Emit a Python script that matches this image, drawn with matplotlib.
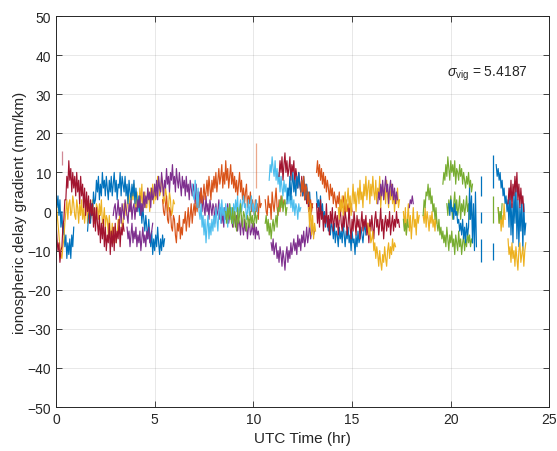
import numpy as np
import matplotlib
matplotlib.use("Agg")
import matplotlib.pyplot as plt

plt.rcParams['font.family'] = ['Liberation Sans', 'DejaVu Sans']
plt.rcParams['mathtext.fontset'] = 'custom'
plt.rcParams['mathtext.rm'] = 'Liberation Sans'
plt.rcParams['mathtext.it'] = 'Liberation Sans:italic'

# MATLAB default colour order
BLUE, ORANGE, YELLOW, PURPLE = '#0072BD', '#D95319', '#EDB120', '#7E2F8E'
GREEN, LBLUE, RED = '#77AC30', '#4DBEEE', '#A2142F'

DT = 0.05  # sample spacing of each arc (hr)

# gradient arcs: start time (hr) and samples (mm/km)
blue_1_t0 = 0.0
blue_1 = [5, 1, 4, -1, 3, -4, 0, -6, -3, -9, -6, -12, -8, -11, -7, -12, -6, -9, -4]
yellow_1_t0 = 0.0
yellow_1 = [3, 0, -3, -6, -9, -11, -12, -9, -7, -3,
            0, 3, -2, 2, 3, -1, 0, 4, 2, -1,
            -2, 3, 1, -3, 2, -1, 3, -2, 1, -3,
            0, 3, -3, 1, 2, -2, -1, 3, 0, -3,
            -3, 2, 1, -2, 2, -1, 3, -3, -2, 1,
            -4, -1, -2, -6, -1, -5, -7, -3, -8, -4,
            -4, -8, -6, -2, -3, 1, 0, -4, -3, 2,
            2, -1, 1, 5, 4, 0, 2, 6, 3, 7,
            3, 0, 5, 2, 1, 6, 2, 7, 0, 4,
            5, 1, 1, 6, 4, 0, 6, 3, 7, 2,
            7, 3, 4, 9, 8, 4, 5, 9, 7, 2,
            3, 6, 4, 0, 1, 5, 3, -1, 0, 3, 2]
blue_2_t0 = 1.6
blue_2 = [-5, -1, 0, -3, 2, -1, 5, 2,
          3, 8, 5, 9, 3, 7, 4, 10, 6, 8,
          4, 9, 6, 3, 8, 5, 9, 4, 7, 10,
          5, 8, 3, 7, 6, 10, 4, 9, 7, 5,
          9, 4, 7, 2, 8, 5, 3, 7, 4, 8,
          2, 6, 3, 0, 4, -1, 2, -3, 1, -2,
          -5, -1, -4, -7, -2, -6, -9, -5, -11, -7,
          -10, -6, -9, -4, -8, -11, -7, -10, -6, -9, -7]
purple_0_t0 = 3.6
purple_0 = [-4, -7, -5, -9, -6, -3, -8, -5, -7, -4, -9, -6, -8, -5,
            -10, -7, -4, -8, -6, -9, -5, -7, -4, -8, -6, -5, -3]
purple_1_t0 = 2.9
purple_1 = [-1, 1,
            2, -2, 0, 3, -1, 1, -3, 2, 0, -2,
            3, 1, -1, -3, 2, 0, 3, -2, 1, 2,
            -2, 1, 0, 3, 1, 4, -1, 2, 0, 5,
            1, 4, 2, 6, 3, 5, 1, 6, 3, 4,
            7, 4, 8, 3, 9, 6, 5, 10, 7, 4,
            8, 6, 11, 7, 9, 5, 10, 8, 12, 7,
            9, 5, 11, 8, 6, 10, 7, 4, 9, 6,
            8, 4, 9, 5, 7, 3, 8, 6, 4, 7,
            5, 2, 7, 3, 1, 5, 2, 6, 0, 4,
            1, -1, 4, 0, 2, -2, 3, 1, -1, 2,
            1, -3, 2, -1, 0, 3, -2, 1, -3, 0,
            -4, 1, -2, -1, 2, -3, -1, 1, -2, -4,
            -3, 0, -4, -1, -5, -2, -3, -6, -1, -4,
            -6, -2, -5, -3, -7, -4, -2, -6, -5, -3,
            -6, -3, -7, -4, -6, -5, -7]
red_1_t0 = 0.0
red_1 = [-2, -7, -10, -8, -13, -10, -9, -4, -2, 3,
         3, 9, 6, 13, 8, 11, 5, 10, 6, 9,
         4, 10, 5, 8, 2, 9, 4, 7, 1, 6,
         -1, 5, 0, 4, -3, 3, -1, 2, -4, 1,
         -5, 1, -3, -6, -1, -8, -3, -7, -2, -9,
         -4, -10, -6, -8, -3, -11, -5, -9, -4, -10,
         -3, -8, -5, -7, -2, -9, -4, -6, -3, -5]
orange_1_t0 = 5.4
orange_1 = [3, 0, -1, 2, 4, -2, -3, 1, 0, -4, -5, -1,
            -2, -6, -8, -3, -5, -1, -7, -4, -6, -2,
            -3, 0, -5, -2, 1, -4, -1, 2, -3, 0,
            2, -1, 3, 0, 5, 1, 3, 6, 2, 4,
            7, 3, 5, 8, 4, 9, 6, 3, 8, 5,
            9, 6, 10, 5, 8, 11, 7, 9, 12, 6,
            10, 7, 13, 8, 11, 6, 9, 12, 7, 10,
            6, 9, 5, 8, 4, 7, 10, 5, 8, 3,
            6, 2, 5, 7, 1, 4, 2, 5, 0, 3,
            1, -1, 3, 0, 2, -2, 4, 1, 2]
lblue_1_t0 = 6.9
lblue_1 = [7, 4,
           3, 8, 5, 1, 6, 0, -2, 2, -4, -1,
           -6, -2, -8, -4, -1, -7, -3, -6, -2, -5,
           -1, -4, 1, -2, -5, 0, 2, -3, 3, -1,
           1, -3, 2, -1, -4, 0, 2, -2, 1, -3,
           2, -1, 3, 0, 4, -2, 1, 3, 0, 2,
           4, 1, 2, -2, 0, 3, -1, 2, 4, 0,
           2, -1, 1, 3, 0]
green_1_t0 = 8.6
green_1 = [0, -3, 1, -2, 2, -1, -3, 1, -4, 0, -2, -5, 1, -3, -1, 2, -2,
           -4, 0, -1, -3, -5, -1, -2, -4, 0, -3, -1, -4, -2, 0, -3, -1]
orange_2_t0 = 10.6
orange_2 = [3, 0, -1, 4, 1, 2, -2, 5, 2, 0, 3, 6, 1, -1, 3, 0, 4, 2, 1, 3, 2]
green_2_t0 = 10.6
green_2 = [-3, -1, -5, -2, -6, -3, -7, -4, -2, -5, -3, -1,
           -4, 1, 0, 3, 1, 4, 0, 2, 3, -1, 1]
lblue_2_t0 = 10.8
lblue_2 = [8, 12, 10, 14, 11, 9, 13, 8, 11, 7,
           10, 5, 9, 6, 4, 8, 5, 7, 3, 6,
           2, 5, 1, 4, 0, 3, -1, 2, 1, -2, 2, 0, 1]
purple_2_t0 = 10.9
purple_2 = [-8, -10, -7, -11, -9, -8, -12, -10, -13, -9,
            -11, -14, -10, -12, -15, -11, -9, -13, -10, -12,
            -8, -11, -9, -7, -10, -8, -11, -6, -9, -7,
            -10, -6, -8, -5, -9, -7, -4, -8, -6, -3,
            -7, -5, -4, -6, -5]
red_2_t0 = 11.3
red_2 = [9, 13, 10, 14, 8, 12, 15, 10, 13, 9,
         11, 14, 8, 12, 10, 13, 7, 11, 9, 6,
         10, 7, 5, 9, 4, 7, 3, 6, 2, 5,
         0, 3, -1, 2, 1]
blue_3_t0 = 11.7
blue_3 = [2, 6, 4, 9, 3, 7, 10, 5, 8, 4, 9, 6, 10,
          7, 5, 8, 4, 9, 6, 3, 7, 4, 2, 5, 1]
orange_3_t0 = 12.4
orange_3 = [4, 8, 5, 9, 3, 7, 6, 2, 5, 1, 3, 0, 2]
yellow_2_t0 = 12.8
yellow_2 = [1, -4, 2, -6, -1, -7, -3, -5]
orange_4_t0 = 13.2
orange_4 = [10, 13, 9, 12, 8, 11, 7, 10, 6, 9,
            5, 8, 6, 3, 7, 4, 6, 2, 5, 3,
            1, 4, 2, 5, 0, 3, 1, 4, 2, -1,
            3, 0, 2, -1, 1, 2, 0]
blue_4_t0 = 13.2
blue_4 = [5, 1, 3, 0, 4, -1, 2, -2, 0, -4,
          -1, -3, -5, -2, -6, -3, -4, -7, -3, -8,
          -5, -6, -9, -4, -7, -5, -8, -3, -6, -9,
          -5, -7, -4, -8, -6, -10, -5, -8, -7, -11,
          -6, -9, -5, -8, -7, -4, -6, -8, -5, -3, -6]
red_3_t0 = 13.2
red_3 = [2, -3, 1, -4, 3, -2, 0, -5, -1, -3,
         2, -4, -1, -6, 0, -3, 1, -5, -2, 0,
         -4, -1, -6, -2, 1, -3, -5, -1, -4, 0,
         -2, -6, -3, 1, -4, -7, -2, -5, 0, -3,
         -6, -1, -4, -2, -7, -3, 0, -5, -2, -4,
         -1, -6, -3, -8, -2, -5, -1, -4, -7, -2,
         0, -4, -2, -6, -3, 1, -5, -2, -7, -3,
         -1, -5, -2, -4, 0, -6, -3, -1, -5, -2,
         -4, 0, -3, -2, -4]
yellow_3_t0 = 14.3
yellow_3 = [1, -2, 3, 0, 4, -1, 2, 5, 0, 3,
            6, 1, 4, -1, 3, 7, 2, 5, 0, 4,
            6, 2, 8, 3, 5, 1, 7, 4, 9, 3,
            6, 8, 2, 7, 4, 9, 5, 3, 8, 2,
            6, 4, 9, 1, 5, 7, 3, 6, 2, 8,
            4, 1, 6, 3, 7, 2, 5, 0, 4, 2,
            6, 1, 3]
yellow_4_t0 = 15.8
yellow_4 = [-3, -6, -4, -8, -7, -5, -10, -8, -12, -9,
            -11, -14, -10, -13, -15, -11, -13, -9, -12, -14,
            -10, -8, -12, -9, -11, -7, -10, -8, -9]
purple_3_t0 = 16.3
purple_3 = [2, 5, 3, 7, 4, 8, 3, 6, 9, 5, 7, 2, 6, 8, 4, 7, 3, 6, 2, 5, 3]
yellow_5_t0 = 17.6
yellow_5 = [0, -4, 1, -6, -2, 2, -5, -1, -7, -3, 1, -4, -2, -6, 0, -3, -1]
purple_4_t0 = 17.9
purple_4 = [1, 3, 2, 4, 2]
green_3_t0 = 17.6
green_3 = [-2, -5, -3, -6, -2, -4]
yellow_6_t0 = 18.6
yellow_6 = [-1, -3, 1, -4, 0, -2, -5, -1, -3, 0, -4, -2, -5, -1, -3]
green_4_t0 = 18.6
green_4 = [-1, 3, 1, 5, 4, 7, 3, 6, 2, 4,
           0, 2, -2, 1, -3, -5, -2, -6, -4, -7,
           -5, -8, -6, -9, -4, -7, -10, -6, -8, -5,
           -9, -7, -11, -6, -8, -10, -5, -9, -7, -11,
           -8, -6, -10, -7, -9, -5, -8, -6, -9, -7, -8]
green_5_t0 = 19.6
green_5 = [7, 10, 8, 12, 9, 14, 11, 8, 13, 10,
           12, 9, 13, 7, 11, 10, 8, 12, 9, 11,
           7, 10, 8, 6, 9, 7, 10, 6, 8, 5, 7]
green_6_t0 = 19.8
green_6 = [2, -1, 3, 0, 4, 1, -2, 2, 5, 0,
           3, -1, 1, 4, -2, 2, 0, 3, -1, 1,
           4, 0, 2, -2, 1, 0, -1]
blue_5_t0 = 19.9
blue_5 = [2, -1, 3, 0, 1, -2, 2, -1, 0, -3,
          -2, -5, -3, -6, -2, -7, -4, -8, -3, -6,
          -4, 6, -2, 4, -8, 2, -10, 5, -9]
blue_6_t0 = 22.3
blue_6 = [12, 9, 11, 8, 10, 6, 8, 4, 6, 2,
          4, 0, 3, -4, 6, -6, 2, -8, 5, -3,
          7, -7, 3, -9, 1, -5, 4, -10, 2, -6, -3]
yellow_7_t0 = 22.4
yellow_7 = [1, -3, 0, -5, -1, -4, 2, -2]
green_7_t0 = 22.4
green_7 = [1, -3, 0, -2, 2]
yellow_8_t0 = 22.9
yellow_8 = [-7, -11, -9, -13, -8, -12, -10, -14, -9, -12,
            -15, -10, -8, -13, -11, -9, -14, -10, -8]
red_4_t0 = 22.9
red_4 = [2, 6, 3, 8, 1, 7, 4, 9, 5, 10, 3, 7, 1, 6, 2, 4, 0]

# isolated single-epoch jumps
spike_t = [10.15, 21.52, 21.52, 21.52, 22.16, 22.16, 22.16, 0.3]
spike_lo = [6, 4, -3, -13, 6, -3, -12.5, 12]
spike_hi = [17.5, 9, 0, -7, 14.5, 4, -8, 15.5]
spike_color = [ORANGE, BLUE, BLUE, BLUE, BLUE, GREEN, BLUE, RED]

sigma_vig = 5.4187

arcs = [
    (blue_1_t0, blue_1, BLUE), (yellow_1_t0, yellow_1, YELLOW),
    (blue_2_t0, blue_2, BLUE), (purple_0_t0, purple_0, PURPLE),
    (purple_1_t0, purple_1, PURPLE), (red_1_t0, red_1, RED),
    (orange_1_t0, orange_1, ORANGE), (lblue_1_t0, lblue_1, LBLUE),
    (green_1_t0, green_1, GREEN), (orange_2_t0, orange_2, ORANGE),
    (green_2_t0, green_2, GREEN), (lblue_2_t0, lblue_2, LBLUE),
    (purple_2_t0, purple_2, PURPLE), (red_2_t0, red_2, RED),
    (blue_3_t0, blue_3, BLUE), (orange_3_t0, orange_3, ORANGE),
    (yellow_2_t0, yellow_2, YELLOW), (orange_4_t0, orange_4, ORANGE),
    (blue_4_t0, blue_4, BLUE), (red_3_t0, red_3, RED),
    (yellow_3_t0, yellow_3, YELLOW), (yellow_4_t0, yellow_4, YELLOW),
    (purple_3_t0, purple_3, PURPLE), (yellow_5_t0, yellow_5, YELLOW),
    (purple_4_t0, purple_4, PURPLE), (green_3_t0, green_3, GREEN),
    (yellow_6_t0, yellow_6, YELLOW), (green_4_t0, green_4, GREEN),
    (green_5_t0, green_5, GREEN), (green_6_t0, green_6, GREEN),
    (blue_5_t0, blue_5, BLUE), (blue_6_t0, blue_6, BLUE),
    (yellow_7_t0, yellow_7, YELLOW), (green_7_t0, green_7, GREEN),
    (yellow_8_t0, yellow_8, YELLOW), (red_4_t0, red_4, RED),
]

fig = plt.figure(figsize=(5.57, 4.52), dpi=100)
ax = fig.add_axes([0.1005, 0.0973, 0.886, 0.865])

for t0, vals, col in arcs:
    t = t0 + DT * np.arange(len(vals))
    ax.plot(t, vals, color=col, linewidth=0.85)

for t, lo, hi, col in zip(spike_t, spike_lo, spike_hi, spike_color):
    alpha = 0.5 if col in (ORANGE, RED) else 1.0
    ax.vlines(t, lo, hi, color=col, linewidth=0.9, alpha=alpha)

ax.text(19.8, 35.5, r'$\sigma_{\rm vig}$' + f' = {sigma_vig}',
        fontsize=10, color='#262626', va='center', ha='left')

ax.set_xlim(0, 25)
ax.set_ylim(-50, 50)
ax.set_xticks(np.arange(0, 26, 5))
ax.set_yticks(np.arange(-50, 51, 10))
ax.grid(True, color='#262626', alpha=0.12, linewidth=0.6)
ax.tick_params(direction='in', length=4, width=0.6, top=True, right=True,
               labelsize=10, colors='#262626')
for s in ax.spines.values():
    s.set_color('#262626')
    s.set_linewidth(0.7)

ax.set_xlabel('UTC Time (hr)', fontsize=11, color='#262626', labelpad=4)
ax.set_ylabel('ionospheric delay gradient (mm/km)', fontsize=11,
              color='#262626', labelpad=0)

fig.savefig('out.png', dpi=100)
